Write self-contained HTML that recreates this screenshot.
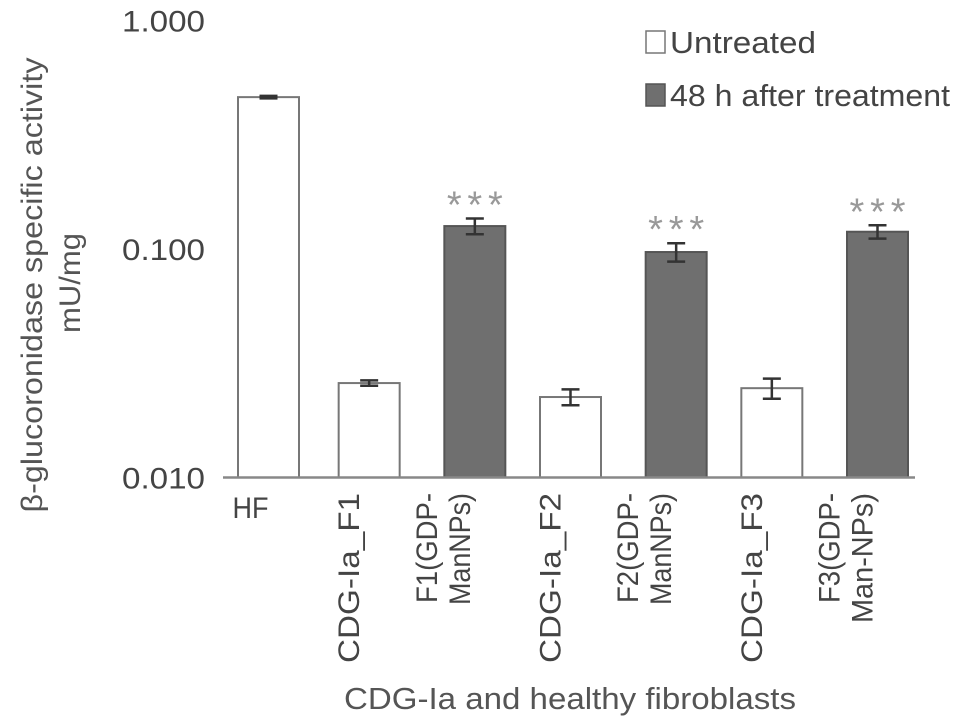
<!DOCTYPE html>
<html><head><meta charset="utf-8"><style>
html,body{margin:0;padding:0;background:#fff;}
svg{display:block;font-family:"Liberation Sans",sans-serif;}
</style></head><body>
<svg id="chart" width="969" height="726" viewBox="0 0 969 726" xmlns="http://www.w3.org/2000/svg">
<g id="grid"></g>
</svg>
<script>
const categories = ["HF","CDG-Ia_F1","F1(GDP-|ManNPs)","CDG-Ia_F2","F2(GDP-|ManNPs)","CDG-Ia_F3","F3(GDP-|Man-NPs)"];
const values = [0.462, 0.0259, 0.126, 0.0225, 0.097, 0.0246, 0.119];
const errors = [0.006, 0.0007, 0.010, 0.0018, 0.009, 0.0025, 0.008];
const treated = [0, 0, 1, 0, 1, 0, 1];
const significance = ["", "", "***", "", "***", "", "***"];
const yTicks = [0.01, 0.1, 1];
const yTickLabels = ["0.010", "0.100", "1.000"];

const svg = document.getElementById('chart');
const NS = "http://www.w3.org/2000/svg";
const X0 = 223, X1 = 915, Y0 = 477.5, DEC = 228.5;
function y(v){ return Y0 - DEC*Math.log10(v/0.01); }
const firstC = 268.5, lastC = 872.5;
function x(i){ return firstC + i*(lastC-firstC)/(categories.length-1) + (treated[i]?5:0); }
const BW = 61;
function mk(tag, attrs){ const e=document.createElementNS(NS,tag); for(const k in attrs) e.setAttribute(k,attrs[k]); svg.appendChild(e); return e; }

categories.forEach((c,i)=>{
  const top = y(values[i]);
  const r = mk('rect',{x:x(i)-BW/2,y:top,width:BW,height:Y0-top,fill:treated[i]?'#6f6f6f':'#fff',stroke:treated[i]?'#555':'#777','stroke-width':2});
  
  
  const hi = y(values[i]+errors[i]), lo = y(values[i]-errors[i]);
  const eb = document.createElementNS(NS,'path');
  eb.setAttribute('d',`M${x(i)},${hi}V${lo}M${x(i)-9},${hi}H${x(i)+9}M${x(i)-9},${lo}H${x(i)+9}`);
  eb.setAttribute('stroke','#333'); eb.setAttribute('stroke-width','2.5'); eb.setAttribute('fill','none');
  
  
  svg.appendChild(eb);
  if(significance[i]){
    const s = mk('text',{x:x(i),y:hi-1,'text-anchor':'middle','font-size':38,fill:'#999',textLength:56,lengthAdjust:'spacing'});
    s.textContent = significance[i];
    
    
  }
  if(i===0){
    const t = mk('text',{x:x(i)-18,y:518,'text-anchor':'middle','font-size':30,fill:'#444',textLength:36,lengthAdjust:'spacingAndGlyphs'});
    t.textContent = c;
    
    
  } else {
    const parts = c.split('|');
    const g = document.createElementNS(NS,'g');
    
    
    svg.appendChild(g);
    if(parts.length===1){
      const t = document.createElementNS(NS,'text');
      const bx = x(i)-10;
      t.setAttribute('transform',`translate(${bx},493) rotate(-90)`);
      t.setAttribute('text-anchor','end'); t.setAttribute('font-size','30'); t.setAttribute('fill','#444');
      t.setAttribute('textLength','170'); t.setAttribute('lengthAdjust','spacingAndGlyphs');
      t.textContent = parts[0]; g.appendChild(t);
    } else {
      [[parts[0],-38,110],[parts[1],-5,parts[1].length>7?130:112]].forEach(p=>{
        const t = document.createElementNS(NS,'text');
        t.setAttribute('transform',`translate(${x(i)+p[1]},493) rotate(-90)`);
        t.setAttribute('text-anchor','end'); t.setAttribute('font-size','30'); t.setAttribute('fill','#444');
        t.setAttribute('textLength',p[2]); t.setAttribute('lengthAdjust','spacingAndGlyphs');
        t.textContent = p[0]; g.appendChild(t);
      });
    }
  }
});

const ax = mk('line',{x1:X0,y1:Y0,x2:X1,y2:Y0,stroke:'#888','stroke-width':2.5});



yTicks.forEach((v,i)=>{
  const t = mk('text',{x:205,y:y(v)+11,'text-anchor':'end','font-size':30,fill:'#444',textLength:83,lengthAdjust:'spacingAndGlyphs'});
  t.textContent = yTickLabels[i];
  
  
});
</script>
<script>
(function(){
const svg=document.getElementById('chart');const NS="http://www.w3.org/2000/svg";
function mk(tag, attrs, txt){ const e=document.createElementNS(NS,tag); for(const k in attrs) e.setAttribute(k,attrs[k]); if(txt) e.textContent=txt; svg.appendChild(e); return e; }
let t;
t = mk('text',{transform:'translate(42,285) rotate(-90)','text-anchor':'middle','font-size':30,fill:'#555',textLength:455,lengthAdjust:'spacingAndGlyphs'},'β-glucoronidase specific activity');


t = mk('text',{transform:'translate(80,283) rotate(-90)','text-anchor':'middle','font-size':30,fill:'#555',textLength:100,lengthAdjust:'spacingAndGlyphs'},'mU/mg');


t = mk('text',{x:570,y:709,'text-anchor':'middle','font-size':31,fill:'#555',textLength:452,lengthAdjust:'spacingAndGlyphs'},'CDG-Ia and healthy fibroblasts');


t = mk('rect',{x:646,y:31,width:19,height:22,fill:'#fff',stroke:'#777','stroke-width':1.5});


t = mk('text',{x:670,y:53,'font-size':31,fill:'#444',textLength:146,lengthAdjust:'spacingAndGlyphs'},'Untreated');


t = mk('rect',{x:646,y:84,width:19,height:22,fill:'#6f6f6f',stroke:'#555','stroke-width':1.5});


t = mk('text',{x:670,y:106,'font-size':31,fill:'#444',textLength:280,lengthAdjust:'spacingAndGlyphs'},'48 h after treatment');


})();
</script>
</body></html>
